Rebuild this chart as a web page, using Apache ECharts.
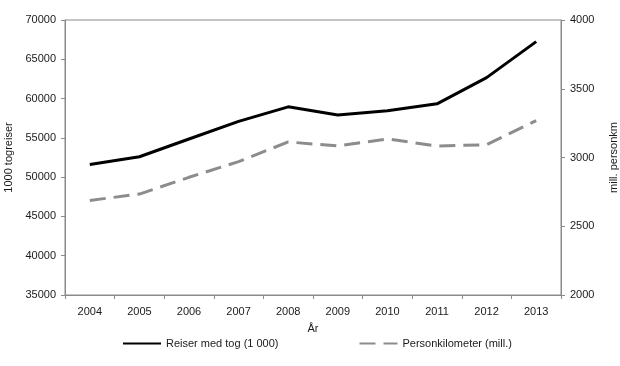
<!DOCTYPE html>
<html>
<head>
<meta charset="utf-8">
<script src="https://cdn.jsdelivr.net/npm/echarts@6/dist/echarts.min.js"></script>
<style>html,body{margin:0;padding:0;background:#fff}#c{width:620px;height:366px}</style>
</head>
<body>
<div id="c"></div>
<script>
const years = ['2004','2005','2006','2007','2008','2009','2010','2011','2012','2013'];
const reiser = [51600, 52600, 54850, 57100, 58950, 57900, 58450, 59330, 62670, 67250];
const personkm = [2688, 2734, 2856, 2970, 3113, 3084, 3135, 3084, 3093, 3268];
const nameReiser = 'Reiser med tog (1 000)';
const namePkm = 'Personkilometer (mill.)';
const leftName = '1000 togreiser';
const rightName = 'mill. personkm';
const xName = 'År';

const font = 'Liberation Sans, Arial, sans-serif';
const fs = 11;
const txt = '#1a1a1a';
const axisGray = '#8a8a8a';
const chart = echarts.init(document.getElementById('c'), null, {renderer: 'canvas'});
chart.setOption({
  animation: false,
  textStyle: {fontFamily: font},
  grid: {left: 65, right: 59, top: 20, bottom: 71, show: true, borderColor: axisGray, borderWidth: 1,
         containLabel: false, outerBoundsMode: 'none'},
  legend: {
    left: 117, top: 333, itemWidth: 38, itemHeight: 12, itemGap: 80,
    itemStyle: {opacity: 0},
    textStyle: {fontFamily: font, fontSize: fs, color: txt},
    data: [nameReiser, namePkm]
  },
  xAxis: {
    type: 'category', data: years, boundaryGap: true,
    name: xName, nameLocation: 'middle', nameGap: 28,
    nameTextStyle: {fontSize: fs, color: txt, fontFamily: font},
    axisLine: {lineStyle: {color: axisGray, width: 1}},
    axisTick: {show: true, alignWithLabel: false, length: 4, lineStyle: {color: axisGray}},
    axisLabel: {fontSize: fs, color: txt, margin: 11, fontFamily: font},
    splitLine: {show: false}
  },
  yAxis: [
    {
      type: 'value', min: 35000, max: 70000, interval: 5000, position: 'left',
      name: leftName, nameLocation: 'middle', nameGap: 49, nameRotate: 90,
      nameTextStyle: {fontSize: fs, color: txt, fontFamily: font},
      axisLine: {show: true, lineStyle: {color: axisGray, width: 1}},
      axisTick: {show: true, length: 4, lineStyle: {color: axisGray}},
      axisLabel: {fontSize: fs, color: txt, margin: 9, fontFamily: font, formatter: v => String(v)},
      splitLine: {show: false}
    },
    {
      type: 'value', min: 2000, max: 4000, interval: 500, position: 'right',
      name: rightName, nameLocation: 'middle', nameGap: 47, nameRotate: 90,
      nameTextStyle: {fontSize: fs, color: txt, fontFamily: font},
      axisLine: {show: true, lineStyle: {color: axisGray, width: 1}},
      axisTick: {show: true, length: 4, lineStyle: {color: axisGray}},
      axisLabel: {fontSize: fs, color: txt, margin: 9, fontFamily: font, formatter: v => String(v)},
      splitLine: {show: false}
    }
  ],
  series: [
    {
      name: nameReiser, type: 'line', data: reiser, yAxisIndex: 0,
      symbol: 'none', lineStyle: {color: '#000', width: 3}, itemStyle: {color: '#000'}
    },
    {
      name: namePkm, type: 'line', data: personkm, yAxisIndex: 1,
      symbol: 'none', lineStyle: {color: '#8c8c8c', width: 3, type: [16, 8]}, itemStyle: {color: '#8c8c8c'}
    }
  ]
});
</script>
</body>
</html>
